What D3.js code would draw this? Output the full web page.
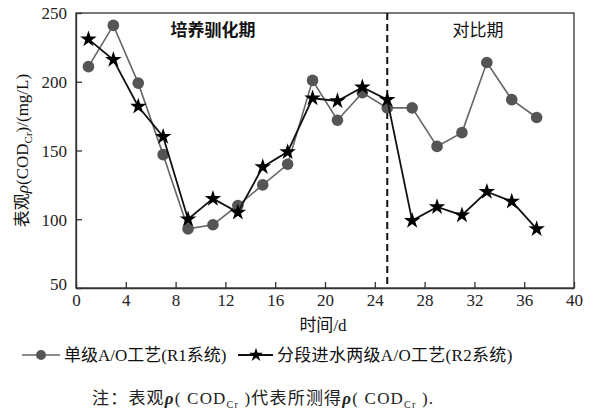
<!DOCTYPE html>
<head>
<meta charset="utf-8" />
</head>
<style>
body { margin: 0; background: #fff; }
svg { display: block; }
</style>
<body>
<script src="https://cdn.jsdelivr.net/npm/d3@7"></script>
<script>
var days = [1, 3, 5, 7, 9, 11, 13, 15, 17, 19, 21, 23, 25, 27, 29, 31, 33, 35, 37];
var r1 = [211, 241, 199, 147, 93, 96, 110, 125, 140, 201, 172, 192, 181, 181, 153, 163, 214, 187, 174];
var r2 = [231, 216, 182, 160, 100, 115, 105, 138, 149, 188, 186, 196, 187, 99, 109, 103, 120, 113, 93];
var xTicks = [0, 4, 8, 12, 16, 20, 24, 28, 32, 36, 40];
var yTicks = [50, 100, 150, 200, 250];
var splitDay = 25;

var SERIF = "'Liberation Serif', 'Times New Roman', Tinos, 'DejaVu Serif', serif";
var CJK = "'Noto Sans CJK SC', 'Noto Sans', sans-serif";

var width = 596, height = 412;
var margin = {left: 76, right: 22, top: 13, bottom: 124};

var svg = d3.select("body").append("svg")
	.attr("width", width)
	.attr("height", height);

var x = d3.scaleLinear().domain([0, 40]).range([margin.left, width - margin.right]);
var y = d3.scaleLinear().domain([50, 250]).range([height - margin.bottom, margin.top]);

// frame
svg.append("rect")
	.attr("x", x(0)).attr("y", y(250))
	.attr("width", x(40) - x(0)).attr("height", y(50) - y(250))
	.attr("fill", "none").attr("stroke", "#333").attr("stroke-width", 1.3);

var xAxis = svg.append("g")
	.attr("transform", "translate(0," + y(50) + ")")
	.call(d3.axisBottom(x).tickValues(xTicks).tickSizeInner(-6).tickSizeOuter(0).tickPadding(9));
var yAxis = svg.append("g")
	.attr("transform", "translate(" + x(0) + ",0)")
	.call(d3.axisLeft(y).tickValues(yTicks).tickSizeInner(-6).tickSizeOuter(0).tickPadding(9));
[xAxis, yAxis].forEach(function(a) {
	a.attr("font-family", null).attr("font-size", null);
	a.select(".domain").attr("stroke", "#333").attr("stroke-width", 1.3);
	a.selectAll(".tick line").attr("stroke", "#333").attr("stroke-width", 1.3);
	a.selectAll(".tick text")
		.style("font-family", SERIF).style("font-size", "17px").attr("fill", "#222");
});
xAxis.selectAll(".tick text").attr("dy", "0.5em");
yAxis.selectAll(".tick text").attr("dy", "0.35em");
yAxis.selectAll(".tick text").filter(function(d) { return d == 50; }).attr("dy", "0.1em");

// dashed divider
svg.append("line")
	.attr("x1", x(splitDay)).attr("x2", x(splitDay))
	.attr("y1", y(250)).attr("y2", y(50))
	.attr("stroke", "#111").attr("stroke-width", 2)
	.attr("stroke-dasharray", "7,4");

var line = d3.line()
	.x(function(d) { return x(d[0]); })
	.y(function(d) { return y(d[1]); });

var d1 = days.map(function(d, i) { return [d, r1[i]]; });
var d2 = days.map(function(d, i) { return [d, r2[i]]; });

svg.append("path").datum(d1)
	.attr("d", line).attr("fill", "none").attr("stroke", "#666").attr("stroke-width", 1.6);
svg.selectAll("circle.r1").data(d1).enter().append("circle")
	.attr("class", "r1")
	.attr("cx", function(d) { return x(d[0]); })
	.attr("cy", function(d) { return y(d[1]); })
	.attr("r", 5.8).attr("fill", "#555");

var star = d3.symbol().type(d3.symbolStar).size(85);
svg.append("path").datum(d2)
	.attr("d", line).attr("fill", "none").attr("stroke", "#111").attr("stroke-width", 1.8);
svg.selectAll("path.r2").data(d2).enter().append("path")
	.attr("class", "r2")
	.attr("d", star)
	.attr("transform", function(d) { return "translate(" + x(d[0]) + "," + y(d[1]) + ")"; })
	.attr("fill", "#000");

function part(t, txt, font, opts) {
	var s = t.append("tspan").style("font-family", font).text(txt);
	opts = opts || {};
	if (opts.italic) s.attr("font-style", "italic");
	if (opts.bold) s.attr("font-weight", "bold");
	if (opts.size) s.style("font-size", opts.size + "px");
	if (opts.dy) s.attr("dy", opts.dy);
	return s;
}

// period labels
svg.append("text")
	.attr("x", 213).attr("y", 36).attr("text-anchor", "middle")
	.style("font-family", CJK).style("font-size", "17px").attr("font-weight", "bold").attr("fill", "#111")
	.text("培养驯化期");
svg.append("text")
	.attr("x", 478).attr("y", 36).attr("text-anchor", "middle")
	.style("font-family", CJK).style("font-size", "17px").attr("fill", "#111")
	.text("对比期");

// y label
var yl = svg.append("text")
	.attr("transform", "translate(28," + ((y(50) + y(250)) / 2) + ") rotate(-90)")
	.attr("text-anchor", "middle").style("font-size", "17px").attr("fill", "#111");
part(yl, "表观", CJK);
part(yl, "ρ", SERIF, {italic: true});
part(yl, "(COD", SERIF);
part(yl, "Cr", SERIF, {size: 11, dy: 4});
part(yl, ")/(mg/L)", SERIF, {dy: -4});

// x label
var xl = svg.append("text")
	.attr("x", 323).attr("y", 331).attr("text-anchor", "middle").style("font-size", "17px").attr("fill", "#111");
part(xl, "时间", CJK);
part(xl, "/d", SERIF);

// legend
var lg = svg.append("g").attr("transform", "translate(0,355)");
lg.append("line").attr("x1", 22).attr("x2", 60).attr("stroke", "#666").attr("stroke-width", 1.6);
lg.append("circle").attr("cx", 41).attr("r", 5).attr("fill", "#555");
var t1 = lg.append("text").attr("x", 64).attr("dy", "0.35em").style("font-size", "17px").attr("fill", "#111");
part(t1, "单级", CJK);
part(t1, "A/O", SERIF);
part(t1, "工艺", CJK);
part(t1, "(R1", SERIF);
part(t1, "系统", CJK);
part(t1, ")", SERIF);

lg.append("line").attr("x1", 238).attr("x2", 273).attr("stroke", "#111").attr("stroke-width", 1.8);
lg.append("path").attr("d", d3.symbol().type(d3.symbolStar).size(60)).attr("transform", "translate(256,0)").attr("fill", "#000");
var t2 = lg.append("text").attr("x", 277).attr("dy", "0.35em").style("font-size", "17px").attr("fill", "#111")
	.attr("letter-spacing", 0.3);
part(t2, "分段进水两级", CJK);
part(t2, "A/O", SERIF);
part(t2, "工艺", CJK);
part(t2, "(R2", SERIF);
part(t2, "系统", CJK);
part(t2, ")", SERIF);

// note
var nt = svg.append("text").attr("x", 92).attr("y", 404).style("font-size", "17px").attr("fill", "#222")
	.attr("letter-spacing", 1.2);
part(nt, "注：表观", CJK);
part(nt, "ρ", SERIF, {italic: true, bold: true});
part(nt, "( COD", SERIF);
part(nt, "Cr", SERIF, {size: 10, dy: 4});
part(nt, " )", SERIF, {dy: -4});
part(nt, "代表所测得", CJK);
part(nt, "ρ", SERIF, {italic: true, bold: true});
part(nt, "( COD", SERIF);
part(nt, "Cr", SERIF, {size: 10, dy: 4});
part(nt, " ).", SERIF, {dy: -4});
</script>
</body>
